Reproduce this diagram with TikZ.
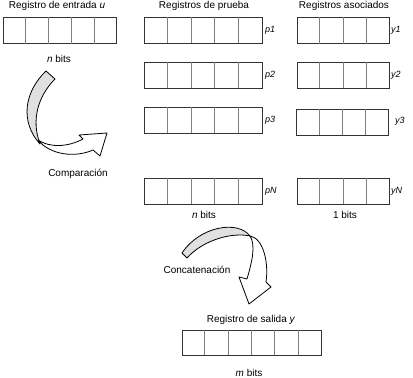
\documentclass[tikz,border=0pt]{standalone}
\usepackage{fontspec}
\setmainfont{Liberation Sans}
\usetikzlibrary{calc}
\tikzset{
  reg/.style={draw=black!80, line width=0.9pt, rectangle, inner sep=0pt, minimum height=26pt},
  divline/.style={draw=black!50, line width=0.8pt},
  lbl/.style={inner sep=0pt, font=\fontsize{10}{12}\selectfont},
  tag/.style={inner sep=0pt, anchor=west, font=\fontsize{9}{11}\selectfont\itshape},
  rib/.style={draw=black, line width=0.8pt, line join=round},
}
\newcommand{\regcells}[2]{%
  \foreach \i in {1,...,#2}{%
    \draw[divline] ($(#1.south west)!{\i/(#2+1)}!(#1.south east)$) -- ($(#1.north west)!{\i/(#2+1)}!(#1.north east)$);
  }%
}
\begin{document}
\begin{tikzpicture}[x=1pt,y=-1pt]
\useasboundingbox (0,0) rectangle (413,378);
% headings
\node[lbl] (hin) at (57,6) {Registro de entrada \textit{u}};
\node[lbl] (hp) at (204,6) {Registros de prueba};
\node[lbl] (hy) at (344,6) {Registros asociados};
% input register
\node[reg, minimum width=113pt] (in) at (60,30.5) {};
\regcells{in}{4}
\node[lbl] (nin) at (59,58.5) {\textit{n} bits};
% test registers
\node[reg, minimum width=118pt] (p1) at (203,30) {};
\node[reg, minimum width=118pt] (p2) at (203,75) {};
\node[reg, minimum width=118pt] (p3) at (203,120) {};
\node[reg, minimum width=118pt] (pN) at (203,191) {};
\regcells{p1}{4}\regcells{p2}{4}\regcells{p3}{4}\regcells{pN}{4}
\node[tag] (lp1) at (265,30) {p1};
\node[tag] (lp2) at (265,75) {p2};
\node[tag] (lp3) at (265,120) {p3};
\node[tag] (lpN) at (265,191) {pN};
% associated registers
\node[reg, minimum width=92pt] (y1) at (343,30.5) {};
\node[reg, minimum width=92pt] (y2) at (343,75) {};
\node[reg, minimum width=92pt] (y3) at (342.5,122) {};
\node[reg, minimum width=92pt] (yN) at (343,191) {};
\regcells{y1}{3}\regcells{y2}{3}\regcells{y3}{3}\regcells{yN}{3}
\node[tag] (ly1) at (391,30) {y1};
\node[tag] (ly2) at (391,75) {y2};
\node[tag] (ly3) at (395,121) {y3};
\node[tag] (lyN) at (391,191) {yN};
\node[lbl] (np) at (204,215) {\textit{n} bits};
\node[lbl] (ny) at (345,215) {1 bits};
% output register
\node[lbl] (hout) at (251,320) {Registro de salida \textit{y}};
\node[reg, minimum width=139pt, minimum height=25pt] (out) at (251.5,342.5) {};
\regcells{out}{5}
\node[lbl] (nout) at (249,373) {\textit{m} bits};
% comparison arrow
\filldraw[rib, fill=white] (38,140) .. controls (50,148) and (68,147) .. (83,139)
  -- (79,135) -- (107,133) -- (100,156) -- (93,150)
  .. controls (75,158) and (50,155) .. (38,140) -- cycle;
\filldraw[rib, fill=black!12] (46,71) -- (55,79) .. controls (38,96) and (31,120) .. (40,144)
  .. controls (20,122) and (24,92) .. (46,71) -- cycle;
\node[lbl] (cmp) at (78,174) {Comparación};
% concatenation arrow
\filldraw[rib, fill=white] (250,236) .. controls (263,238) and (269,262) .. (266,282)
  -- (271,287) -- (249,304) -- (239,277) -- (247,279)
  .. controls (252,262) and (256,245) .. (250,236) -- cycle;
\filldraw[rib, fill=black!12] (182,253) -- (187,258) .. controls (203,240) and (232,232) .. (250,236)
  .. controls (238,220) and (200,226) .. (182,253) -- cycle;
\node[lbl] (cat) at (197,270) {Concatenación};
\end{tikzpicture}
\end{document}
